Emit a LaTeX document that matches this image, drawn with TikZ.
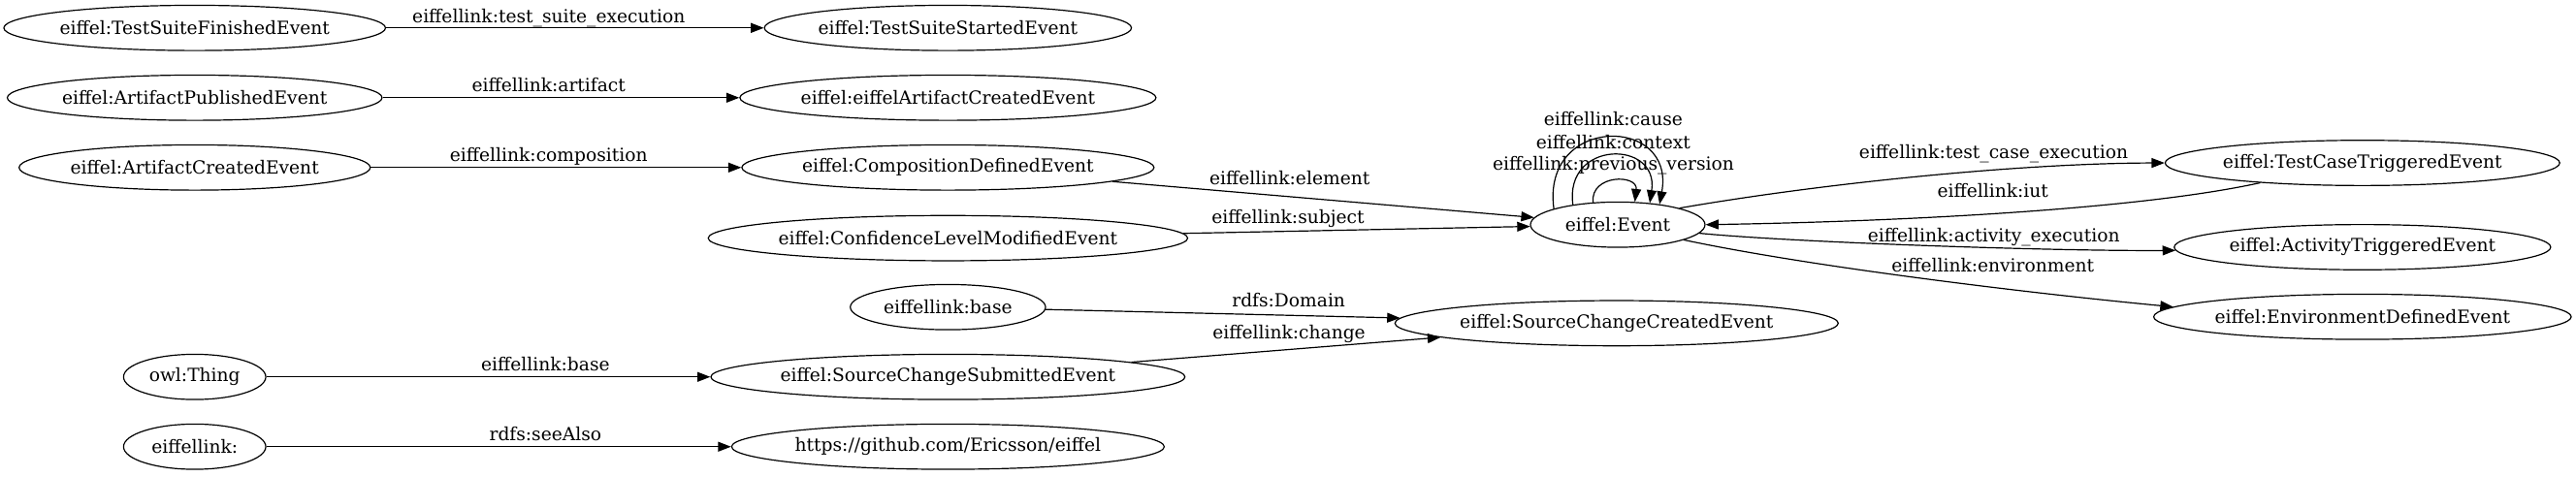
\documentclass[tikz,border=0pt]{standalone}
\usepackage{fontspec}
\setmainfont{DejaVu Serif}
\usetikzlibrary{arrows.meta,shapes.geometric}
\tikzset{
  cls/.style={draw, ellipse, line width=0.9pt, inner xsep=0pt, inner ysep=0pt,
    minimum height=35pt},
  lnk/.style={-{Triangle[length=10pt,width=7.5pt]}, line width=0.9pt},
  lbl/.style={inner sep=0pt, anchor=base}
}

\begin{document}
\begin{tikzpicture}[x=1.2705pt,y=-1.2705pt,font=\fontsize{14}{17}\selectfont]
\useasboundingbox (0,0) rectangle (1568,290);
% left column
\node[cls] (tsf) at (118.5,17) {eiffel:TestSuiteFinishedEvent};
\node[cls] (ape) at (118.5,59.5) {eiffel:ArtifactPublishedEvent};
\node[cls] (ace) at (118.5,102) {eiffel:ArtifactCreatedEvent};
\node[cls,minimum width=110pt] (thing) at (118.5,229.5) {owl:Thing};
\node[cls,minimum width=110pt] (ns) at (118.5,272) {eiffellink:};
% middle column
\node[cls] (tss) at (577,17) {eiffel:TestSuiteStartedEvent};
\node[cls] (eace) at (577,59.5) {eiffel:eiffelArtifactCreatedEvent};
\node[cls] (cde) at (577,102) {eiffel:CompositionDefinedEvent};
\node[cls] (clme) at (577,145) {eiffel:ConfidenceLevelModifiedEvent};
\node[cls,minimum width=151pt] (base) at (577,187) {eiffellink:base};
\node[cls] (scse) at (577,229.5) {eiffel:SourceChangeSubmittedEvent};
\node[cls] (repo) at (577,272) {https://github.com/Ericsson/eiffel};
% centre
\node[cls,minimum width=135pt] (ev) at (984.7,136.8) {eiffel:Event};
\node[cls] (scce) at (984,196.8) {eiffel:SourceChangeCreatedEvent};
% right column
\node[cls] (tcte) at (1438,99.2) {eiffel:TestCaseTriggeredEvent};
\node[cls] (ate) at (1438,150.5) {eiffel:ActivityTriggeredEvent};
\node[cls] (ede) at (1438,192.9) {eiffel:EnvironmentDefinedEvent};

% straight links
\draw[lnk] (tsf) -- (tss);
\draw[lnk] (ape) -- (eace);
\draw[lnk] (ace) -- (cde);
\draw[lnk] (cde) -- (ev);
\draw[lnk] (clme) -- (ev);
\draw[lnk] (base) -- (scce);
\draw[lnk] (scse) -- (scce);
\draw[lnk] (thing) -- (scse);
\draw[lnk] (ns) -- (repo);

% self loops on the event
\draw[lnk] (ev.166.3) .. controls (938,70) and (1020,70) .. (ev.26.2);
\draw[lnk] (ev.156.6) .. controls (952,85) and (1010,85) .. (ev.34.3);
\draw[lnk] (ev.138) .. controls (968,106) and (997,106) .. (ev.53.5);

% curved links on the right
\draw[lnk] (ev.15) .. controls (1110,111.5) and (1230,99.4) .. (tcte.180);
\draw[lnk] (tcte.191.5) .. controls (1300,128) and (1150,135) .. (ev.east);
\draw[lnk] (ev.-6) .. controls (1090,147.5) and (1250,153) .. (ate.181);
\draw[lnk] (ev.-13.4) .. controls (1100,162) and (1230,178) .. (ede.177.5);

% link labels
\node[lbl] (l1) at (334,14) {eiffellink:test\_suite\_execution};
\node[lbl] (l2) at (334,56) {eiffellink:artifact};
\node[lbl] (l3) at (334,98.5) {eiffellink:composition};
\node[lbl] (l4) at (785,112.2) {eiffellink:element};
\node[lbl] (l5) at (784,135.8) {eiffellink:subject};
\node[lbl] (l6) at (784.4,187) {rdfs:Domain};
\node[lbl] (l7) at (784.6,206.2) {eiffellink:change};
\node[lbl] (l8) at (332,226) {eiffellink:base};
\node[lbl] (l9) at (332,268.6) {rdfs:seeAlso};
\node[lbl] (l10) at (982,76.7) {eiffellink:cause};
\node[lbl] (l11) at (982,90.5) {eiffellink:context};
\node[lbl] (l12) at (982,103.4) {eiffellink:previous\_version};
\node[lbl] (l13) at (1213.5,96.3) {eiffellink:test\_case\_execution};
\node[lbl] (l14) at (1213,120) {eiffellink:iut};
\node[lbl] (l15) at (1213.6,147) {eiffellink:activity\_execution};
\node[lbl] (l16) at (1213,165.3) {eiffellink:environment};
\end{tikzpicture}
\end{document}
